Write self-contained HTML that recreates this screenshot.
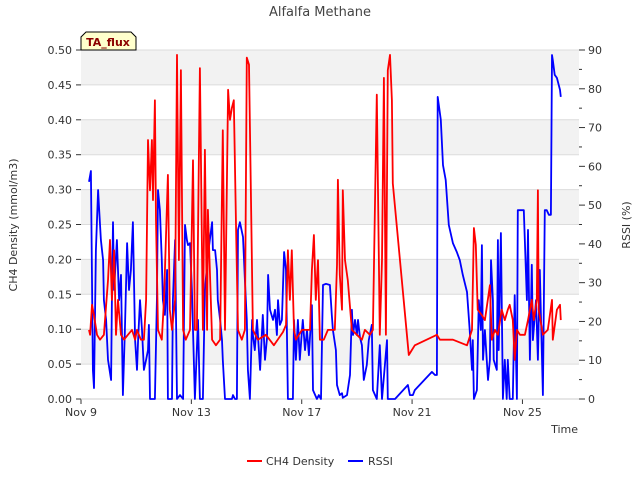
<!DOCTYPE html>
<html><head><meta charset="utf-8"><style>
body{margin:0;background:#fff;}
svg{display:block;font-family:"DejaVu Sans","Liberation Sans",sans-serif;}
</style></head><body>
<svg id="chart" width="640" height="480" viewBox="0 0 640 480">
<text x="320" y="16" text-anchor="middle" font-size="13" fill="#444">Alfalfa Methane</text>
<g id="bands"></g>
<g id="axes"></g>
<g id="series"></g>
<text transform="translate(17,225) rotate(-90)" text-anchor="middle" font-size="11" fill="#333">CH4 Density (mmol/m3)</text>
<text transform="translate(630,225) rotate(-90)" text-anchor="middle" font-size="11" fill="#333">RSSI (%)</text>
<text x="578" y="433" text-anchor="end" font-size="11" fill="#333">Time</text>
<g>
<path d="M81,50 L81,37 L86,32 L131,32 L136,37 L136,50 Z" fill="#ffffcc" stroke="#000" stroke-width="1"/>
<text x="108" y="46" text-anchor="middle" font-size="11" font-weight="bold" fill="#8b0000">TA_flux</text>
</g>
<g>
<g><line x1="247" y1="461" x2="262" y2="461" stroke="#ff0000" stroke-width="2"/><text x="266" y="465" font-size="11" fill="#333">CH4 Density</text></g>
<g><line x1="348" y1="461" x2="363" y2="461" stroke="#0000ff" stroke-width="2"/><text x="368" y="465" font-size="11" fill="#333">RSSI</text></g>
</g>
</svg>
<script>
const xTickLabels=["Nov 9","Nov 13","Nov 17","Nov 21","Nov 25"];
const xTickDays=[0,4,8,12,16];
const leftTicks=[0,0.05,0.1,0.15,0.2,0.25,0.3,0.35,0.4,0.45,0.5];
const rightTicks=[0,10,20,30,40,50,60,70,80,90];
const ch4Days=[0.29,0.33,0.40,0.47,0.58,0.69,0.83,0.98,1.05,1.12,1.20,1.27,1.34,1.45,1.56,1.70,1.85,1.96,2.03,2.17,2.28,2.36,2.43,2.50,2.57,2.61,2.68,2.72,2.79,2.93,3.01,3.15,3.22,3.30,3.41,3.48,3.55,3.62,3.70,3.80,3.95,4.06,4.13,4.20,4.31,4.42,4.49,4.57,4.60,4.75,4.89,5.04,5.14,5.22,5.33,5.40,5.47,5.54,5.62,5.69,5.83,5.94,6.01,6.09,6.16,6.23,6.41,6.70,6.99,7.32,7.43,7.50,7.57,7.64,7.72,7.79,8.01,8.15,8.30,8.37,8.44,8.51,8.59,8.66,8.80,8.95,9.09,9.20,9.28,9.31,9.38,9.46,9.49,9.57,9.67,9.82,10.00,10.18,10.29,10.47,10.58,10.72,10.83,10.91,10.98,11.05,11.12,11.20,11.27,11.30,11.88,11.99,12.10,12.90,13.01,13.48,13.99,14.17,14.24,14.31,14.38,14.53,14.64,14.82,14.89,15.00,15.11,15.25,15.36,15.47,15.54,15.65,15.72,15.80,15.91,16.09,16.20,16.34,16.41,16.52,16.56,16.59,16.74,16.92,17.07,17.10,17.25,17.36,17.39];
const ch4Values=[0.099,0.092,0.135,0.120,0.092,0.085,0.092,0.170,0.228,0.142,0.213,0.092,0.142,0.092,0.085,0.092,0.099,0.085,0.099,0.085,0.085,0.142,0.371,0.299,0.371,0.285,0.428,0.256,0.099,0.085,0.142,0.321,0.128,0.099,0.142,0.493,0.199,0.471,0.099,0.085,0.099,0.342,0.099,0.099,0.474,0.099,0.357,0.099,0.271,0.085,0.077,0.085,0.385,0.099,0.443,0.400,0.417,0.428,0.242,0.099,0.085,0.099,0.489,0.479,0.285,0.099,0.085,0.092,0.077,0.096,0.106,0.213,0.142,0.213,0.099,0.085,0.099,0.099,0.099,0.185,0.235,0.142,0.199,0.085,0.085,0.099,0.099,0.099,0.192,0.314,0.178,0.128,0.299,0.199,0.170,0.099,0.092,0.085,0.099,0.092,0.099,0.436,0.092,0.199,0.460,0.092,0.471,0.493,0.428,0.309,0.063,0.070,0.077,0.092,0.085,0.085,0.077,0.099,0.245,0.221,0.128,0.120,0.113,0.163,0.085,0.099,0.092,0.128,0.113,0.128,0.135,0.113,0.056,0.099,0.092,0.092,0.113,0.142,0.113,0.142,0.299,0.128,0.092,0.099,0.142,0.085,0.128,0.135,0.113];
const rssiDays=[0.29,0.36,0.43,0.47,0.54,0.62,0.65,0.72,0.80,0.83,0.91,0.98,1.09,1.12,1.16,1.20,1.30,1.38,1.45,1.52,1.59,1.67,1.74,1.81,1.88,1.96,2.03,2.07,2.14,2.21,2.28,2.36,2.43,2.46,2.50,2.68,2.75,2.79,2.86,2.93,2.97,3.04,3.12,3.15,3.30,3.33,3.41,3.48,3.59,3.70,3.77,3.84,3.88,3.95,4.02,4.13,4.24,4.31,4.42,4.49,4.60,4.75,4.78,4.86,4.93,4.96,5.04,5.11,5.14,5.22,5.47,5.51,5.58,5.65,5.69,5.76,5.87,5.94,6.01,6.05,6.12,6.20,6.23,6.30,6.38,6.49,6.59,6.67,6.74,6.78,6.85,6.96,7.03,7.10,7.14,7.21,7.28,7.36,7.43,7.50,7.68,7.72,7.79,7.86,7.93,8.01,8.04,8.12,8.19,8.26,8.37,8.41,8.55,8.62,8.70,8.77,8.88,9.02,9.09,9.13,9.24,9.28,9.38,9.46,9.49,9.64,9.75,9.82,9.86,9.93,10.00,10.04,10.11,10.18,10.25,10.36,10.43,10.54,10.58,10.72,10.83,10.91,11.09,11.12,11.38,11.85,11.92,12.03,12.10,12.72,12.83,12.90,12.93,13.04,13.12,13.22,13.33,13.48,13.62,13.73,13.84,13.99,14.09,14.17,14.20,14.24,14.35,14.42,14.49,14.53,14.57,14.64,14.75,14.82,14.86,14.93,14.96,15.07,15.11,15.14,15.22,15.29,15.36,15.43,15.47,15.54,15.65,15.72,15.80,15.83,15.91,15.98,16.05,16.16,16.20,16.27,16.34,16.38,16.49,16.56,16.63,16.74,16.81,16.88,16.96,17.03,17.07,17.10,17.17,17.25,17.36,17.39];
const rssiValues=[56.0,58.8,7.5,2.8,38.4,53.9,50.0,41.0,35.8,25.5,20.4,10.1,4.9,25.5,45.6,28.1,41.0,25.5,32.0,1.0,17.8,40.2,28.1,33.3,45.6,15.2,7.5,15.2,25.5,17.8,7.5,10.1,12.6,19.1,0,0,25.5,53.9,48.7,35.8,25.5,21.7,33.3,0,0,25.5,41.0,0,1.0,0,44.9,41.0,39.7,40.2,28.1,0,20.4,0,0,28.1,37.1,45.6,38.4,38.4,33.3,25.5,20.4,15.2,10.1,0,0,1.0,0,0,43.6,45.6,41.8,30.7,20.4,7.5,0,20.4,16.5,12.6,20.4,7.5,21.7,10.1,15.7,32.0,23.0,20.4,23.0,16.5,25.5,19.1,20.4,37.9,33.3,0,0,20.4,10.1,20.4,10.1,17.8,20.4,12.6,17.8,11.3,24.2,2.3,0,1.0,0,29.4,29.7,29.4,21.7,17.8,12.6,3.6,1.0,1.5,0.3,1.0,6.2,23.0,16.5,20.4,16.5,20.4,16.0,13.9,4.9,8.8,15.2,19.1,2.3,0,13.9,0,15.2,0,0,3.6,1.0,1.0,2.3,7.0,6.2,6.2,77.9,72.0,60.3,56.5,44.9,40.2,37.9,35.8,32.0,27.6,17.8,7.5,15.2,0,2.3,25.5,17.8,39.7,10.1,17.8,4.9,10.1,35.8,25.5,10.1,7.5,41.0,12.6,42.8,0,10.1,0,10.1,0,0,26.8,0,48.7,48.7,48.7,48.7,25.5,43.6,10.1,34.6,15.2,25.5,10.1,33.3,1.0,48.7,48.7,47.5,47.5,88.7,87.4,83.6,82.8,79.7,77.9];

const NS="http://www.w3.org/2000/svg";
const L=81,R=579,T=50,B=399;
const xS=d=>L+d*(R-L)/18.05;
const yL=v=>B-v/0.5*(B-T);
const yR=v=>B-v/90*(B-T);
function mk(tag,attrs,parent){const e=document.createElementNS(NS,tag);for(const k in attrs)e.setAttribute(k,attrs[k]);parent.appendChild(e);return e;}
const bands=document.getElementById('bands'),axes=document.getElementById('axes'),series=document.getElementById('series');
for(let i=0;i<10;i++){
  const v0=leftTicks[i],v1=leftTicks[i+1];
  const r=mk('rect',{x:L,y:yL(v1),width:R-L,height:yL(v0)-yL(v1),fill:(i%2===1)?'#f2f2f2':'#ffffff'},bands);
  
  
}
leftTicks.forEach((v,i)=>{
  const g=mk('line',{x1:L,x2:R,y1:yL(v),y2:yL(v),stroke:'#dcdcdc','stroke-width':1},bands);
  
  
  mk('line',{x1:L-5,x2:L,y1:yL(v),y2:yL(v),stroke:'#333'},axes);
  const t=mk('text',{x:L-9,y:yL(v)+4,'text-anchor':'end','font-size':11,fill:'#333'},axes);
  t.textContent=v.toFixed(2);
  
  
});
rightTicks.forEach(v=>{
  mk('line',{x1:R,x2:R+6,y1:yR(v),y2:yR(v),stroke:'#333'},axes);
  if(v<90) mk('line',{x1:R,x2:R+3,y1:yR(v+5),y2:yR(v+5),stroke:'#333'},axes);
  const t=mk('text',{x:R+9,y:yR(v)+4,'font-size':11,fill:'#333'},axes);
  t.textContent=String(v);
  
  
});
xTickDays.forEach((d,i)=>{
  mk('line',{x1:xS(d),x2:xS(d),y1:B,y2:B+5,stroke:'#333'},axes);
  const t=mk('text',{x:xS(d),y:B+17,'text-anchor':'middle','font-size':11,fill:'#333'},axes);
  t.textContent=xTickLabels[i];
  
  
});
mk('line',{x1:L,x2:R,y1:B,y2:B,stroke:'#ccc'},axes);
function line(days,vals,ys,color,name){
  const p=days.map((d,i)=>xS(d).toFixed(1)+','+ys(vals[i]).toFixed(1)).join(' ');
  const e=mk('polyline',{points:p,fill:'none',stroke:color,'stroke-width':1.8,'stroke-linejoin':'round'},series);
  
  
}
line(rssiDays,rssiValues,yR,'#0000ff','rssi-line');
line(ch4Days,ch4Values,yL,'#ff0000','ch4-density-line');
</script>
</body></html>
